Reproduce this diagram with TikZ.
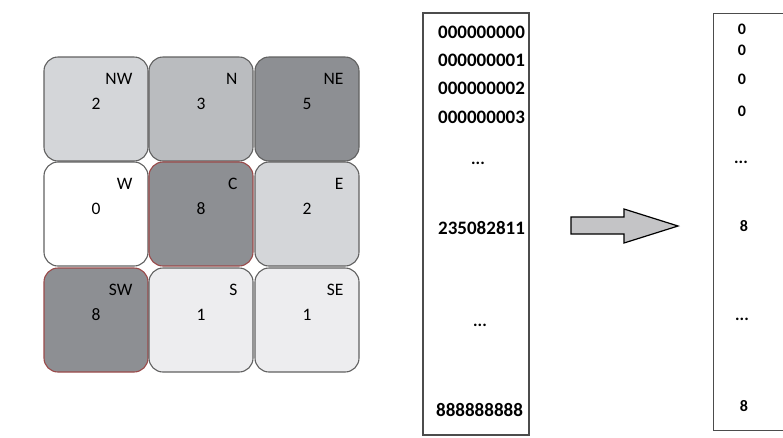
\documentclass[tikz,border=0pt]{standalone}
\usepackage{fontspec}
\setmainfont{Carlito}
\definecolor{cellpale}{HTML}{EDEDEF}
\definecolor{celllight}{HTML}{D4D6D9}
\definecolor{cellmid}{HTML}{BABCBF}
\definecolor{celldark}{HTML}{8D8F93}
\definecolor{hotrim}{HTML}{9A4A4A}
\definecolor{arrowgray}{HTML}{C4C4C6}
\tikzset{
  nb cell/.style={
    rectangle,rounded corners=14pt,draw=black!62,line width=1.1pt,
    minimum size=104pt,inner sep=0pt
  },
  nb hot/.style={nb cell,draw=hotrim},
  nb dir/.style={font=\fontsize{17.5}{19}\selectfont,anchor=east,inner sep=0pt},
  nb num/.style={font=\fontsize{17.5}{19}\selectfont,inner sep=0pt},
  rec box/.style={draw=black!70,line width=1.2pt,inner sep=0pt},
  rec text/.style={font=\bfseries\fontsize{19}{21}\selectfont,anchor=west,inner sep=0pt},
  rec dots/.style={font=\bfseries\fontsize{17}{19}\selectfont,inner sep=0pt},
  out text/.style={font=\bfseries\fontsize{16}{18}\selectfont,inner sep=0pt},
  big arrow/.style={draw=black,fill=arrowgray,line width=1.2pt,line join=miter}
}
\newcommand{\nbcellat}[5]{%
  \node[#5] (c#2) at (#1) {};
  \node[nb dir] (d#2) at ([xshift=-16pt,yshift=-22pt]c#2.north east) {#3};
  \node[nb num] (n#2) at ([yshift=-47pt]c#2.north) {#4};%
}

\begin{document}
\begin{tikzpicture}[x=1pt,y=-1pt]
  \path[use as bounding box] (0,0) rectangle (783,437);

  % neighbourhood grid
  \nbcellat{96,109}{nw}{NW}{2}{nb cell,fill=celllight}
  \nbcellat{201,109}{n}{N}{3}{nb cell,fill=cellmid}
  \nbcellat{307,109}{ne}{NE}{5}{nb cell,fill=celldark}
  \nbcellat{96,214}{w}{W}{0}{nb cell,fill=white}
  \nbcellat{201,214}{c}{C}{8}{nb hot,fill=celldark}
  \nbcellat{307,214}{e}{E}{2}{nb cell,fill=celllight}
  \nbcellat{96,320}{sw}{SW}{8}{nb hot,fill=celldark}
  \nbcellat{201,320}{s}{S}{1}{nb cell,fill=cellpale}
  \nbcellat{307,320}{se}{SE}{1}{nb cell,fill=cellpale}

  % pattern list
  \node[rec box,minimum width=106pt,minimum height=422pt] (list) at (476,224) {};
  \node[rec text] (l0) at (438,32) {000000000};
  \node[rec text] (l1) at (438,60) {000000001};
  \node[rec text] (l2) at (438,88) {000000002};
  \node[rec text] (l3) at (438,117) {000000003};
  \node[rec dots] (l4) at (478,163) {...};
  \node[rec text] (l5) at (438,228) {235082811};
  \node[rec dots] (l6) at (480,325) {...};
  \node[rec text] (l7) at (436,410) {888888888};

  \draw[big arrow] (571,217) -- (624,217) -- (624,209) -- (678,226)
    -- (624,243) -- (624,234) -- (571,234) -- cycle;

  % counts
  \begin{scope}
    \clip (0,0) rectangle (783,437);
    \node[rec box,minimum width=120pt,minimum height=417pt,anchor=north west]
      (out) at (713,13) {};
  \end{scope}
  \node[out text] (o0) at (742,29) {0};
  \node[out text] (o1) at (742,50) {0};
  \node[out text] (o2) at (742,79) {0};
  \node[out text] (o3) at (742,111) {0};
  \node[rec dots] (o4) at (741,162) {...};
  \node[out text] (o5) at (744,226) {8};
  \node[rec dots] (o6) at (742,319) {...};
  \node[out text] (o7) at (744,406) {8};
\end{tikzpicture}
\end{document}
